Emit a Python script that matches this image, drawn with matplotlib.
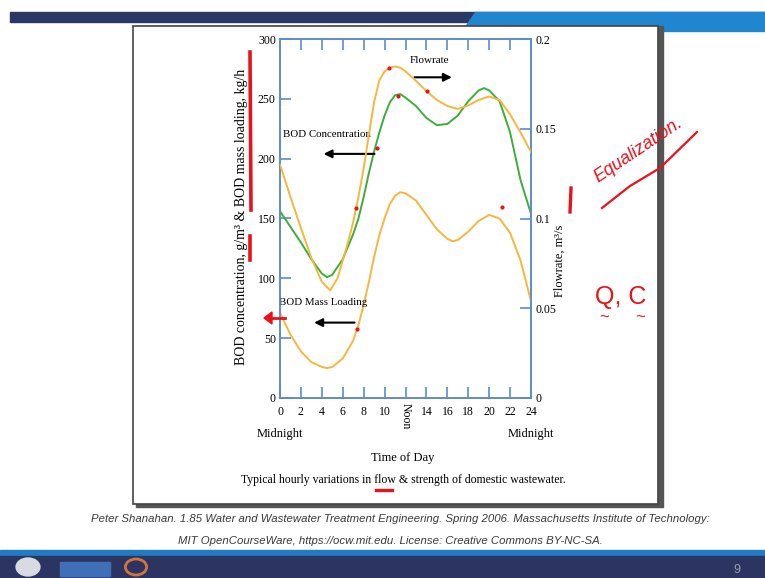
import matplotlib.pyplot as plt
from matplotlib.patches import Rectangle, Polygon, Circle
from matplotlib.lines import Line2D

# values (hours of the day)
flow_hours = [0, 1, 2, 3, 4, 4.8, 5.5, 6, 6.5, 7, 7.5, 8, 8.5, 9, 9.5, 10, 10.5, 11,
              11.5, 12, 13, 14, 15, 16, 17, 18, 19, 20, 21, 22, 23, 24]
flowrate = [0.130, 0.112, 0.0947, 0.078, 0.0647, 0.060, 0.0667, 0.0767, 0.0867, 0.098,
            0.112, 0.128, 0.1467, 0.165, 0.177, 0.182, 0.184, 0.1847, 0.184, 0.182,
            0.1767, 0.171, 0.166, 0.1627, 0.161, 0.163, 0.166, 0.168, 0.166, 0.158,
            0.148, 0.137]

conc_hours = [0, 1, 2, 3, 4, 4.5, 5, 6, 7, 7.5, 8, 8.5, 9, 9.5, 10, 10.5, 11, 11.5,
              12, 13, 14, 15, 16, 17, 18, 19, 19.5, 20, 21, 22, 23, 24]
bod_conc = [156, 143, 130, 116, 104, 101, 103, 116, 137, 150, 168, 188, 206, 222, 236,
            247, 253, 254, 251, 244, 234, 228, 229, 236, 248, 257, 259, 257, 248, 222,
            182, 154]

load_hours = [0, 1, 2, 3, 4, 4.5, 5, 6, 7, 7.5, 8, 8.5, 9, 9.5, 10, 10.5, 11, 11.5,
              12, 13, 14, 15, 16, 16.5, 17, 18, 19, 20, 21, 22, 23, 24]
bod_load = [71, 53, 39, 30, 26, 25, 26, 33, 48, 61, 78, 97, 118, 136, 150, 162, 169,
            172, 171, 165, 153, 141, 133, 131, 132, 139, 148, 153, 150, 138, 115, 81]

# red pen dots drawn over the figure by the lecturer
pen_flow_x = [7.3, 9.3, 10.4, 14.1]
pen_flow_y = [0.106, 0.139, 0.184, 0.171]
pen_left_x = [11.3, 7.4, 21.2]
pen_left_y = [252, 58, 160]

hour_ticks = list(range(0, 25, 2))
hour_labels = ['' if h == 12 else str(h) for h in hour_ticks]

ORANGE = '#f6b73c'
GREEN = '#3dae3a'
BLUE = '#5b8dcc'
PEN = '#e8121a'
SERIF = 'Liberation Serif'
SANS = ['Liberation Sans', 'DejaVu Sans']

W, H = 765, 578


def fx(px):
    return px / W


def fy(py):
    return 1 - py / H


fig = plt.figure(figsize=(W / 100, H / 100), dpi=100)
fig.patch.set_facecolor('white')

# slide header / footer
fig.patches.append(Rectangle((fx(10), fy(22)), fx(765) - fx(10), 10 / H,
                             transform=fig.transFigure, color='#2c3765', zorder=0))
fig.patches.append(Polygon([(fx(475), fy(12)), (fx(765), fy(12)), (fx(765), fy(31)),
                            (fx(462), fy(31))], closed=True, transform=fig.transFigure,
                           color='#1f86cf', zorder=0))
fig.patches.append(Rectangle((0, fy(556)), 1, 6 / H, transform=fig.transFigure,
                             color='#1f7cc4', zorder=0))
fig.patches.append(Rectangle((0, 0), 1, fy(556), transform=fig.transFigure,
                             color='#2c3561', zorder=0))
fig.patches.append(Circle((fx(28), fy(567)), 9 / H, transform=fig.transFigure,
                          color='#d9dbe3', zorder=1))
fig.patches.append(Rectangle((fx(60), fy(576)), 50 / W, 14 / H, transform=fig.transFigure,
                             color='#3f6fb6', zorder=1))
fig.patches.append(Circle((fx(136), fy(567)), 8 / H, transform=fig.transFigure,
                          facecolor='none', edgecolor='#d4743a', lw=2, zorder=1))
fig.text(fx(737), fy(570), '9', color='#9a9fb5', fontsize=9, ha='center', va='center',
         family=SANS)

# picture frame with a small shadow
fig.patches.append(Rectangle((fx(136), fy(507)), (660 - 133) / W, (507 - 26) / H,
                             transform=fig.transFigure, color='#555555', zorder=1))
fig.patches.append(Rectangle((fx(133), fy(504)), (658 - 133) / W, (504 - 26) / H,
                             transform=fig.transFigure, facecolor='white',
                             edgecolor='#444444', lw=1.2, zorder=1))

# citation
fig.text(fx(400), fy(519), 'Peter Shanahan. 1.85 Water and Wastewater Treatment Engineering. '
         'Spring 2006. Massachusetts Institute of Technology:', fontsize=8.2, style='italic',
         color='#3a3a3a', ha='center', va='center', family=SANS)
fig.text(fx(390), fy(541), 'MIT OpenCourseWare, https://ocw.mit.edu. License: Creative Commons BY-NC-SA.',
         fontsize=8.2, style='italic', color='#3a3a3a', ha='center', va='center', family=SANS)

# main chart
ax = fig.add_axes([fx(280), fy(398), (531 - 280) / W, (398 - 39) / H], zorder=3)
ax.patch.set_alpha(0)
ax2 = ax.twinx()

ax.plot(conc_hours, bod_conc, color=GREEN, lw=1.4, zorder=3)
ax.plot(load_hours, bod_load, color=ORANGE, lw=1.4, zorder=3)
ax2.plot(flow_hours, flowrate, color=ORANGE, lw=1.4, zorder=3)
ax2.scatter(pen_flow_x, pen_flow_y, s=4, color=PEN, zorder=4)
ax.scatter(pen_left_x, pen_left_y, s=4, color=PEN, zorder=4)

ax.set_xlim(0, 24)
ax.set_ylim(0, 300)
ax2.set_ylim(0, 0.2)
ax.set_xticks(hour_ticks)
ax.set_xticklabels(hour_labels, family=SERIF, fontsize=8.5)
ax.set_yticks(range(0, 301, 50))
ax.set_yticklabels([str(v) for v in range(0, 301, 50)], family=SERIF, fontsize=8.5)
ax2.set_yticks([0, 0.05, 0.1, 0.15, 0.2])
ax2.set_yticklabels(['0', '0.05', '0.1', '0.15', '0.2'], family=SERIF, fontsize=8.5)

ax.tick_params(axis='x', direction='in', length=8, width=1.2, color=BLUE, top=True, pad=6)
ax.tick_params(axis='y', direction='in', length=8, width=1.2, color=BLUE, pad=3)
ax2.tick_params(axis='y', direction='in', length=8, width=1.2, color=BLUE, pad=3)
for a in (ax, ax2):
    for sp in a.spines.values():
        sp.set_color(BLUE)
        sp.set_linewidth(1.2)

ax.text(12, -4, 'Noon', rotation=-90, ha='center', va='top', family=SERIF, fontsize=8.5)
ax.text(0, -0.1, 'Midnight', transform=ax.get_xaxis_transform(), ha='center', va='center',
        family=SERIF, fontsize=9)
ax.text(24, -0.1, 'Midnight', transform=ax.get_xaxis_transform(), ha='center', va='center',
        family=SERIF, fontsize=9)

# inline labels with arrows
ax.text(14.3, 282, 'Flowrate', ha='center', va='center', family=SERIF, fontsize=8)
ax.annotate('', xy=(16.7, 268), xytext=(12.6, 268),
            arrowprops=dict(arrowstyle='-|>', color='black', lw=1.5, mutation_scale=12))
ax.text(4.5, 220, 'BOD Concentration', ha='center', va='center', family=SERIF, fontsize=7.8)
ax.annotate('', xy=(3.9, 204), xytext=(9.3, 204),
            arrowprops=dict(arrowstyle='-|>', color='black', lw=1.5, mutation_scale=12))
ax.text(4.1, 80, 'BOD Mass Loading', ha='center', va='center', family=SERIF, fontsize=7.8)
ax.annotate('', xy=(3.0, 63), xytext=(7.4, 63),
            arrowprops=dict(arrowstyle='-|>', color='black', lw=1.5, mutation_scale=12))

fig.text(fx(241), fy(217), 'BOD concentration, g/m³ & BOD mass loading, kg/h', rotation=90,
         ha='center', va='center', family=SERIF, fontsize=10)
fig.text(fx(560), fy(261), 'Flowrate, m³/s', rotation=90, ha='center', va='center',
         family=SERIF, fontsize=9)
fig.text(fx(403), fy(458), 'Time of Day', ha='center', va='center', family=SERIF, fontsize=9)
fig.text(fx(403), fy(480), 'Typical hourly variations in flow & strength of domestic wastewater.',
         ha='center', va='center', family=SERIF, fontsize=8.5)

# handwritten notes in red
fig.text(fx(638), fy(150), 'Equalization.', rotation=34, ha='center', va='center',
         color=PEN, fontsize=13, style='italic', family=SANS)
fig.text(fx(621), fy(297), 'Q, C', ha='center', va='center', color=PEN, fontsize=18,
         family=SANS)
fig.text(fx(604), fy(318), '~', ha='center', va='center', color=PEN, fontsize=12, family=SANS)
fig.text(fx(640), fy(318), '~', ha='center', va='center', color=PEN, fontsize=12, family=SANS)
pen_strokes = [
    ([602, 630, 660, 697], [208, 186, 168, 132], 1.6),
    ([250, 251], [52, 210], 2.6),
    ([250, 250], [236, 260], 2.6),
    ([571, 570], [188, 212], 2.4),
    ([376, 392], [490, 490], 2.4),
]
for xs, ys, lw in pen_strokes:
    fig.lines.append(Line2D([fx(v) for v in xs], [fy(v) for v in ys], color=PEN, lw=lw,
                            transform=fig.transFigure, zorder=5))
fig.patches.append(plt.Polygon([(fx(264), fy(318)), (fx(272), fy(312)), (fx(272), fy(324))],
                               closed=True, transform=fig.transFigure, color=PEN, zorder=5))
fig.lines.append(Line2D([fx(270), fx(285)], [fy(318), fy(318)], color=PEN, lw=2,
                        transform=fig.transFigure, zorder=5))

fig.savefig('out.png', dpi=100)
